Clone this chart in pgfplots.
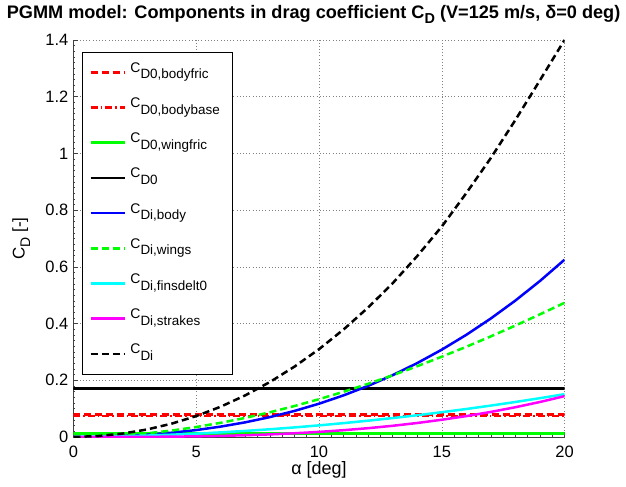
\documentclass[border=0pt]{standalone}
\usepackage{fontspec}
\setmainfont{Liberation Sans}
\usepackage{pgfplots}
\usepackage{pgfplotstable}
\pgfplotsset{compat=1.18}

\definecolor{mred}{rgb}{1,0,0}
\definecolor{mgreen}{rgb}{0,1,0}
\definecolor{mblue}{rgb}{0,0,1}
\definecolor{mcyan}{rgb}{0,1,1}
\definecolor{mmag}{rgb}{1,0,1}

\newcommand{\sub}[1]{\raisebox{-6.5bp}{\fontsize{13.5}{13.5}\selectfont #1}}

\pgfplotstableread{
a body wings fins strakes di
0 0 0 0 0 0
1 0.0008 0.0015 0.0010 0.0000 0.0033
2 0.0035 0.0058 0.0027 0.0001 0.0121
3 0.0081 0.0129 0.0051 0.0005 0.0266
4 0.0151 0.0228 0.0081 0.0012 0.0471
5 0.0245 0.0352 0.0119 0.0023 0.0738
6 0.0367 0.0502 0.0163 0.0039 0.1070
7 0.0518 0.0675 0.0215 0.0062 0.1470
8 0.0702 0.0872 0.0273 0.0092 0.1939
9 0.0919 0.1092 0.0338 0.0131 0.2481
10 0.1174 0.1333 0.0410 0.0180 0.3097
11 0.1468 0.1595 0.0489 0.0240 0.3791
12 0.1803 0.1876 0.0575 0.0311 0.4565
13 0.2181 0.2177 0.0668 0.0395 0.5421
14 0.2606 0.2495 0.0767 0.0494 0.6380
15 0.3079 0.2831 0.0874 0.0608 0.7420
16 0.3603 0.3182 0.0987 0.0737 0.8600
17 0.4180 0.3549 0.1108 0.0884 0.9840
18 0.4812 0.3930 0.1235 0.1050 1.1180
19 0.5502 0.4325 0.1369 0.1235 1.2580
20 0.6252 0.4732 0.1510 0.1440 1.4000
}\ditable

\begin{document}
\begin{tikzpicture}
\begin{axis}[
  scale only axis, width=491bp, height=397bp,
  xmin=0, xmax=20, ymin=0, ymax=1.4,
  xtick={0,5,10,15,20}, ytick={0,0.2,0.4,0.6,0.8,1,1.2,1.4},
  axis x line*=bottom, axis y line*=left,
  grid=major,
  major grid style={black!50, line width=0.5bp, dash pattern=on 0.8bp off 2.4bp},
  tick align=inside, major tick length=5bp, minor tick length=2bp,
  minor x tick num=9, minor y tick num=9,
  axis line style={black!75, line width=0.6bp},
  every tick/.style={black!75, line width=0.5bp},
  tick label style={font=\fontsize{16.5}{16.5}\selectfont, inner sep=0pt},
  /pgf/number format/assume math mode=true,
  xticklabel style={anchor=base, yshift=-20.5bp},
  yticklabel style={anchor=east, xshift=-5bp},
  clip mode=individual,
  legend cell align=left,
  legend image code/.code={\draw[#1] (0bp,0bp) -- (17bp,0bp) -- (34bp,0bp);},
  legend style={at={(axis description cs:0.0175,0.9698)}, anchor=north west,
    draw=black, line width=0.7bp, fill=white,
    inner xsep=7bp, inner ysep=11bp, row sep=17.2bp, column sep=4.5bp,
    font=\fontsize{14}{14}\selectfont,
    nodes={inner sep=0pt, text height=9bp, text depth=9bp, text width=95bp, align=left}},
]
\addplot[mred, line width=2.5bp, dash pattern=on 7bp off 4bp] coordinates {(0,0.079) (20,0.079)};
\addlegendentry{C\sub{D0,bodyfric}}
\addplot[mred, line width=2.5bp, dash pattern=on 7bp off 3bp on 1.5bp off 3bp] coordinates {(0,0.074) (20,0.074)};
\addlegendentry{C\sub{D0,bodybase}}
\addplot[mgreen, line width=2.5bp] coordinates {(0,0.013) (20,0.013)};
\addlegendentry{C\sub{D0,wingfric}}
\addplot[black, line width=2.5bp] coordinates {(0,0.171) (20,0.171)};
\addlegendentry{C\sub{D0}}
\addplot[mblue, line width=2.5bp] table[x=a, y=body] {\ditable};
\addlegendentry{C\sub{Di,body}}
\addplot[mgreen, line width=2.5bp, dash pattern=on 7bp off 4bp] table[x=a, y=wings] {\ditable};
\addlegendentry{C\sub{Di,wings}}
\addplot[mcyan, line width=2.5bp] table[x=a, y=fins] {\ditable};
\addlegendentry{C\sub{Di,finsdelt0}}
\addplot[mmag, line width=2.5bp] table[x=a, y=strakes] {\ditable};
\addlegendentry{C\sub{Di,strakes}}
\addplot[black, line width=2.5bp, dash pattern=on 7bp off 4bp] table[x=a, y=di] {\ditable};
\addlegendentry{C\sub{Di}}

\coordinate (bl) at (rel axis cs:0,0);
\coordinate (tr) at (rel axis cs:1,1);
\node[anchor=base, font=\bfseries\fontsize{18.2}{18.2}\selectfont] at (axis description cs:0.489,1) [yshift=21.7bp]
  {PGMM model: Components in drag coefficient C\raisebox{-5bp}{\fontsize{14.5}{14.5}\selectfont D} (V=125 m/s, δ=0 deg)};
\node[anchor=base, font=\fontsize{18}{18}\selectfont] at (axis description cs:0.5,0) [yshift=-37.3bp] {α [deg]};
\node[rotate=90, anchor=base, font=\fontsize{17}{17}\selectfont] at (axis description cs:-0.0998,0.5) {C\raisebox{-5.5bp}{\fontsize{14}{14}\selectfont D} [-]};
\end{axis}
\pgfresetboundingbox
\path[use as bounding box] ([shift={(-73.5bp,-50bp)}]bl) rectangle ([shift={(61.5bp,40bp)}]tr);
\end{tikzpicture}
\end{document}
